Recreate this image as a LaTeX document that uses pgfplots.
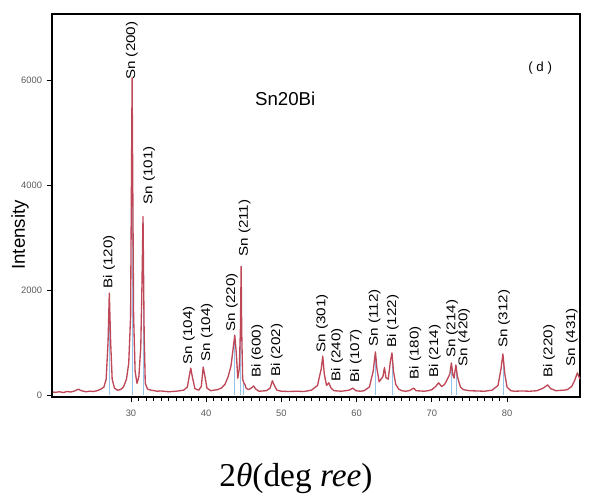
\documentclass[border=0pt]{standalone}
\usepackage{pgfplots}
\pgfplotsset{compat=1.18}
\usepackage{fontspec}
\setmainfont{Liberation Sans}
\newfontfamily\seriffont{Liberation Serif}
\definecolor{xrd}{RGB}{190,72,88}
\definecolor{tickgray}{RGB}{90,90,90}
\pgfplotstableread{
x y
19.6 55
20.0 50
20.5 60
21.0 45
21.5 65
22.0 55
22.5 75
23.0 110
23.4 80
24.0 60
24.5 70
25.0 65
25.5 80
26.0 110
26.4 150
26.7 300
26.95 1000
27.12 1940
27.3 1000
27.5 300
27.8 130
28.2 90
28.6 100
29.0 150
29.4 300
29.7 600
29.95 1500
30.15 6040
30.35 1500
30.55 450
30.8 220
31.05 350
31.3 900
31.45 2000
31.6 3400
31.75 1200
31.9 220
32.2 110
32.7 90
33.5 70
34.0 75
35.0 60
36.0 70
37.0 90
37.5 150
37.8 400
37.95 510
38.15 350
38.5 120
39.0 90
39.35 160
39.6 530
39.8 380
40.1 130
40.6 80
41.0 90
41.5 100
42.0 130
42.5 200
42.9 340
43.3 550
43.8 1140
44.0 800
44.2 320
44.4 500
44.55 1240
44.65 2450
44.72 1240
44.85 300
45.0 230
45.15 200
45.3 130
45.6 100
46.0 130
46.3 170
46.6 110
47.0 70
47.5 75
48.0 80
48.5 130
48.8 270
49.0 200
49.4 90
50.0 70
51.0 65
52.0 70
53.0 65
54.0 90
54.8 180
55.3 500
55.5 740
55.7 400
56.0 180
56.3 230
56.6 130
57.0 80
58.0 70
59.0 90
59.5 130
59.9 80
60.5 70
61.0 80
61.7 150
62.2 450
62.5 820
62.7 500
63.0 250
63.5 350
63.7 520
63.9 330
64.2 300
64.5 650
64.7 800
64.9 450
65.2 200
65.6 110
66.0 80
66.5 70
67.0 80
67.6 130
67.9 80
68.5 75
69.0 70
69.5 80
70.0 100
70.5 160
70.9 230
71.3 160
71.7 200
72.0 280
72.4 400
72.6 610
72.8 380
72.95 320
73.2 570
73.4 350
73.8 150
74.2 100
75.0 80
76.0 75
77.0 70
78.0 90
78.8 180
79.2 500
79.45 780
79.7 400
80.0 150
80.5 80
81.0 70
82.0 75
83.0 70
84.0 80
84.8 130
85.4 190
85.8 120
86.5 80
87.0 85
87.5 90
88.0 100
88.6 160
89.0 280
89.35 420
89.55 350
89.7 300
}\xrddata
\pgfplotstableread{
x y
27.12 1900
30.15 5900
31.6 3300
43.8 1050
44.6 1150
45.0 220
62.45 780
64.7 780
72.6 580
73.2 550
79.45 750
}\sticks
\newcommand{\lbl}[1]{\scalebox{1.2}[1]{#1}}
\begin{document}
\begin{tikzpicture}
\useasboundingbox (0,0) rectangle (441.75pt,372.75pt);
\begin{axis}[
  at={(39pt,75pt)}, anchor=south west,
  scale only axis, width=396pt, height=287.25pt,
  xmin=19.5, xmax=89.7, ymin=-40, ymax=7260,
  xtick={30,40,50,60,70,80}, minor x tick num=9,
  ytick={0,2000,4000,6000},
  tick align=outside, major tick length=4pt, minor tick length=3pt,
  xtick pos=bottom, ytick pos=left,
  /pgf/number format/assume math mode=true,
  /pgf/number format/set thousands separator={},
  tick label style={font=\fontsize{7}{8}\selectfont, text=tickgray},
  xticklabel style={yshift=-2pt},
  axis line style={black, line width=0.8pt},
  every tick/.style={black, line width=0.5pt},
  ylabel={Intensity},
  ylabel style={at={(rel axis cs:0,0.423)}, anchor=center, yshift=24pt, font=\fontsize{14}{16}\selectfont},
  xlabel={\seriffont 2\textit{θ}(deg \textit{ree})},
  xlabel style={at={(rel axis cs:0.462,0)}, anchor=center, yshift=-60.75pt, font=\fontsize{25}{28}\selectfont},
  clip=false,
]
\addplot[ycomb, no markers, color=cyan!60!blue, opacity=0.45, line width=0.6pt] table[x=x,y=y]{\sticks};
\addplot[no markers, color=xrd, line width=1pt, line join=round] table[x=x,y=y]{\xrddata};
\begin{scope}[every node/.style={rotate=90, anchor=west, inner sep=0pt, font=\fontsize{9.5}{11}\selectfont}]
\node at (axis cs:27.1,2020) {\lbl{Bi (120)}};
\node at (axis cs:30.1,6000) {\lbl{Sn (200)}};
\node at (axis cs:32.4,3620) {\lbl{Sn (101)}};
\node at (axis cs:37.7,570) {\lbl{Sn (104)}};
\node at (axis cs:40.1,630) {\lbl{Sn (104)}};
\node at (axis cs:43.4,1200) {\lbl{Sn (220)}};
\node at (axis cs:45.1,2630) {\lbl{Sn (211)}};
\node at (axis cs:46.8,320) {\lbl{Bi (600)}};
\node at (axis cs:49.4,340) {\lbl{Bi (202)}};
\node at (axis cs:55.4,800) {\lbl{Sn (301)}};
\node at (axis cs:57.4,250) {\lbl{Bi (240)}};
\node at (axis cs:59.9,230) {\lbl{Bi (107)}};
\node at (axis cs:62.4,920) {\lbl{Sn (112)}};
\node at (axis cs:64.8,890) {\lbl{Bi (122)}};
\node at (axis cs:67.8,290) {\lbl{Bi (180)}};
\node at (axis cs:70.4,320) {\lbl{Bi (214)}};
\node at (axis cs:72.7,700) {\lbl{Sn (214)}};
\node at (axis cs:74.3,540) {\lbl{Sn (420)}};
\node at (axis cs:79.6,890) {\lbl{Sn (312)}};
\node at (axis cs:85.6,320) {\lbl{Bi (220)}};
\node at (axis cs:88.6,540) {\lbl{Sn (431)}};
\end{scope}
\node[font=\fontsize{14}{16}\selectfont] at (axis cs:50.5,5640) {Sn20Bi};
\node[font=\fontsize{10}{12}\selectfont] at (axis cs:84.4,6230) {( d )};
\end{axis}
\end{tikzpicture}
\end{document}
